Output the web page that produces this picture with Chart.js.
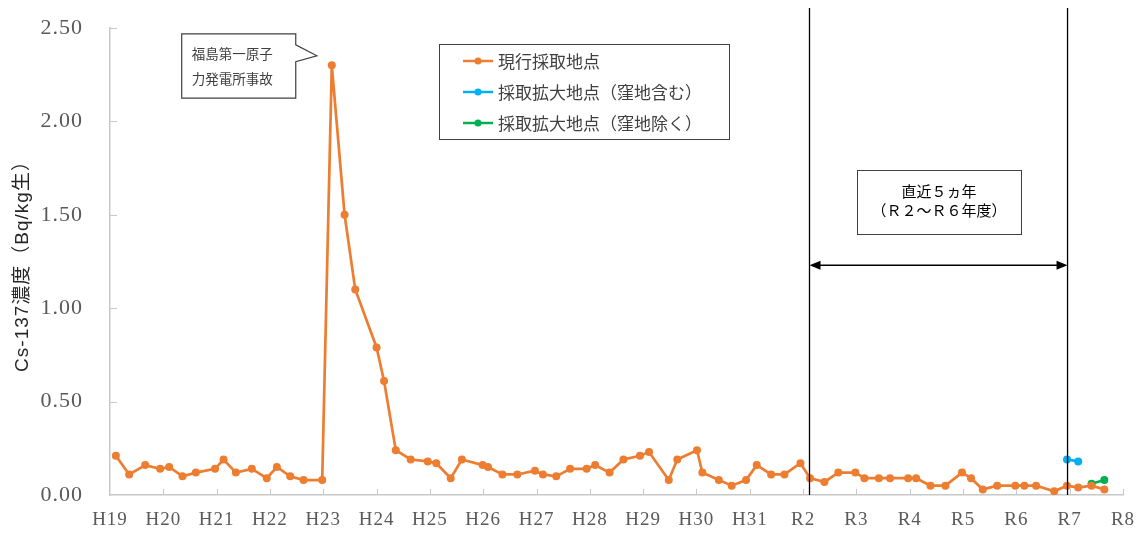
<!DOCTYPE html>
<html lang="ja">
<head>
  <meta charset="UTF-8">
  <title>Cs-137濃度の推移</title>
  <script src="https://cdn.jsdelivr.net/npm/chart.js"></script>
  <style>
    body {
      margin: 0;
      background: #ffffff;
    }
    #wrap {
      width: 1145px;
      height: 538px;
    }
  </style>
</head>
<body>
  <div id="wrap">
    <canvas id="csChart" width="1145" height="538"></canvas>
  </div>

  <script>
    // fiscal-year tick labels (x axis runs 0..19, one unit per year)
    const yearLabels = ['H19', 'H20', 'H21', 'H22', 'H23', 'H24', 'H25', 'H26', 'H27', 'H28',
      'H29', 'H30', 'H31', 'R2', 'R3', 'R4', 'R5', 'R6', 'R7', 'R8'];

    const seriesNames = ['現行採取地点', '採取拡大地点（窪地含む）', '採取拡大地点（窪地除く）'];

    // 現行採取地点: sampling time (years since H19) and concentration
    const currentX = [0.11, 0.36, 0.66, 0.94, 1.11, 1.36, 1.61, 1.97, 2.13, 2.36,
      2.66, 2.94, 3.13, 3.38, 3.63, 3.98, 4.16, 4.40, 4.60, 5.00,
      5.14, 5.36, 5.64, 5.96, 6.12, 6.39, 6.60, 6.99, 7.09, 7.36,
      7.64, 7.97, 8.12, 8.37, 8.63, 8.94, 9.10, 9.37, 9.63, 9.94,
      10.11, 10.48, 10.64, 11.01, 11.11, 11.42, 11.66, 11.93, 12.13, 12.40,
      12.65, 12.95, 13.13, 13.40, 13.66, 13.98, 14.15, 14.42, 14.63, 14.97,
      15.12, 15.39, 15.67, 15.98, 16.15, 16.37, 16.64, 16.98, 17.15, 17.37,
      17.71, 17.95, 18.16, 18.41, 18.65];
    const currentY = [0.21, 0.11, 0.16, 0.14, 0.15, 0.10, 0.12, 0.14, 0.19, 0.12,
      0.14, 0.09, 0.15, 0.10, 0.08, 0.08, 2.30, 1.50, 1.10, 0.79,
      0.61, 0.24, 0.19, 0.18, 0.17, 0.09, 0.19, 0.16, 0.15, 0.11,
      0.11, 0.13, 0.11, 0.10, 0.14, 0.14, 0.16, 0.12, 0.19, 0.21,
      0.23, 0.08, 0.19, 0.24, 0.12, 0.08, 0.05, 0.08, 0.16, 0.11,
      0.11, 0.17, 0.09, 0.07, 0.12, 0.12, 0.09, 0.09, 0.09, 0.09,
      0.09, 0.05, 0.05, 0.12, 0.09, 0.03, 0.05, 0.05, 0.05, 0.05,
      0.02, 0.05, 0.04, 0.05, 0.03];

    // 採取拡大地点
    const withHollowX = [17.95, 18.16];
    const withHollowY = [0.19, 0.18];
    const withoutHollowX = [18.41, 18.65];
    const withoutHollowY = [0.06, 0.08];

    const seriesColors = ['#ED7D31', '#00B0F0', '#00B050'];

    // annotation anchors in data units
    const periodStart = 13.12;
    const periodEnd = 17.96;
    const periodArrowY = 1.23;
    const periodText = ['直近５ヵ年', '（Ｒ２～Ｒ６年度）'];
    const accidentText = ['福島第一原子', '力発電所事故'];

    function toPoints(xs, ys) {
      return xs.map((x, i) => ({ x: x, y: ys[i] }));
    }

    const axisGray = '#c8c8c8';
    const labelGray = '#595959';
    const cjk = '"Noto Sans CJK JP", sans-serif';

    // wider spacing for axis text only (scales are drawn before datasets)
    const axisSpacing = {
      id: 'axisSpacing',
      beforeDraw(chart) { chart.ctx.letterSpacing = '1px'; },
      beforeDatasetsDraw(chart) { chart.ctx.letterSpacing = '0px'; }
    };

    // inside tick marks like the original spreadsheet chart
    const insideTicks = {
      id: 'insideTicks',
      afterDraw(chart) {
        const { ctx, chartArea, scales } = chart;
        ctx.save();
        ctx.strokeStyle = axisGray;
        ctx.lineWidth = 1;
        ctx.beginPath();
        scales.y.ticks.forEach(t => {
          if (t.value === 0) return;
          const y = Math.round(scales.y.getPixelForValue(t.value)) + 0.5;
          ctx.moveTo(chartArea.left, y);
          ctx.lineTo(chartArea.left + 7, y);
        });
        scales.x.ticks.forEach(t => {
          if (t.value === 0) return;
          const x = Math.round(scales.x.getPixelForValue(t.value)) + 0.5;
          ctx.moveTo(x, chartArea.bottom);
          ctx.lineTo(x, chartArea.bottom - 6);
        });
        ctx.stroke();
        ctx.restore();
      }
    };

    function arrowHead(ctx, x, y, dir) {
      ctx.beginPath();
      ctx.moveTo(x, y);
      ctx.lineTo(x - dir * 11, y - 4.5);
      ctx.lineTo(x - dir * 11, y + 4.5);
      ctx.closePath();
      ctx.fill();
    }

    const annotations = {
      id: 'annotations',
      afterDatasetsDraw(chart) {
        const { ctx, chartArea, scales } = chart;
        const xs = scales.x, ys = scales.y;
        ctx.save();
        ctx.letterSpacing = '0px';

        // period lines and arrow
        const x1 = xs.getPixelForValue(periodStart);
        const x2 = xs.getPixelForValue(periodEnd);
        ctx.strokeStyle = '#000';
        ctx.fillStyle = '#000';
        ctx.lineWidth = 1.3;
        ctx.beginPath();
        ctx.moveTo(x1, chartArea.top - 20);
        ctx.lineTo(x1, chartArea.bottom);
        ctx.moveTo(x2, chartArea.top - 20);
        ctx.lineTo(x2, chartArea.bottom);
        const ay = ys.getPixelForValue(periodArrowY);
        ctx.moveTo(x1 + 6, ay);
        ctx.lineTo(x2 - 6, ay);
        ctx.stroke();
        arrowHead(ctx, x1, ay, -1);
        arrowHead(ctx, x2, ay, 1);

        // period label box
        const bx1 = xs.getPixelForValue(14.01), bx2 = xs.getPixelForValue(17.09);
        const by1 = ys.getPixelForValue(1.74), by2 = ys.getPixelForValue(1.40);
        ctx.fillStyle = '#fff';
        ctx.fillRect(bx1, by1, bx2 - bx1, by2 - by1);
        ctx.strokeStyle = '#404040';
        ctx.lineWidth = 1;
        ctx.strokeRect(Math.round(bx1) + 0.5, Math.round(by1) + 0.5, Math.round(bx2 - bx1), Math.round(by2 - by1));
        ctx.fillStyle = '#000';
        ctx.font = '15px ' + cjk;
        ctx.textAlign = 'center';
        ctx.textBaseline = 'middle';
        const bc = (bx1 + bx2) / 2;
        ctx.fillText(periodText[0], bc, by1 + 21);
        ctx.fillText(periodText[1], bc, by1 + 40);

        // accident callout
        const cx1 = xs.getPixelForValue(1.345), cx2 = xs.getPixelForValue(3.484);
        const cy1 = ys.getPixelForValue(2.469), cy2 = ys.getPixelForValue(2.125);
        const tipX = xs.getPixelForValue(3.88), tipY = ys.getPixelForValue(2.351);
        const pA = ys.getPixelForValue(2.41), pB = ys.getPixelForValue(2.32);
        ctx.beginPath();
        ctx.moveTo(cx1, cy1);
        ctx.lineTo(cx2, cy1);
        ctx.lineTo(cx2, pA);
        ctx.lineTo(tipX, tipY);
        ctx.lineTo(cx2, pB);
        ctx.lineTo(cx2, cy2);
        ctx.lineTo(cx1, cy2);
        ctx.closePath();
        ctx.fillStyle = '#fff';
        ctx.fill();
        ctx.strokeStyle = '#404040';
        ctx.lineWidth = 1.2;
        ctx.stroke();
        ctx.fillStyle = '#404040';
        ctx.font = '13.5px ' + cjk;
        ctx.textAlign = 'left';
        ctx.fillText(accidentText[0], cx1 + 10, cy1 + 20);
        ctx.fillText(accidentText[1], cx1 + 10, cy1 + 45);

        // legend box
        const lx = chartArea.left + 329, ly = chartArea.top + 16;
        ctx.fillStyle = '#fff';
        ctx.fillRect(lx, ly, 290, 95);
        ctx.strokeStyle = '#404040';
        ctx.lineWidth = 1;
        ctx.strokeRect(lx + 0.5, ly + 0.5, 290, 95);
        ctx.font = '17px ' + cjk;
        chart.data.datasets.forEach((ds, i) => {
          const ry = ly + 17 + i * 31;
          ctx.strokeStyle = ds.borderColor;
          ctx.lineWidth = 2.5;
          ctx.beginPath();
          ctx.moveTo(lx + 24, ry);
          ctx.lineTo(lx + 54, ry);
          ctx.stroke();
          ctx.fillStyle = ds.borderColor;
          ctx.beginPath();
          ctx.arc(lx + 39, ry, 3.5, 0, Math.PI * 2);
          ctx.fill();
          ctx.fillStyle = '#404040';
          ctx.fillText(ds.label, lx + 59, ry + 1);
        });

        ctx.restore();
      }
    };

    function lineSet(label, xs, ys, color) {
      return {
        label: label,
        data: toPoints(xs, ys),
        borderColor: color,
        backgroundColor: color,
        borderWidth: 2.7,
        pointRadius: 4,
        pointHoverRadius: 4,
        pointBorderWidth: 0,
        tension: 0
      };
    }

    const ctx = document.getElementById('csChart').getContext('2d');
    new Chart(ctx, {
      type: 'line',
      data: {
        datasets: [
          lineSet(seriesNames[0], currentX, currentY, seriesColors[0]),
          lineSet(seriesNames[1], withHollowX, withHollowY, seriesColors[1]),
          lineSet(seriesNames[2], withoutHollowX, withoutHollowY, seriesColors[2])
        ]
      },
      options: {
        responsive: false,
        animation: false,
        layout: { padding: { left: 0, right: 22, top: 28, bottom: 0 } },
        plugins: {
          legend: { display: false },
          tooltip: { enabled: false }
        },
        scales: {
          x: {
            type: 'linear',
            min: 0,
            max: 19,
            grid: { display: false },
            border: { color: axisGray, width: 1.5 },
            ticks: {
              stepSize: 1,
              autoSkip: false,
              maxRotation: 0,
              padding: 6,
              color: labelGray,
              font: { family: '"Liberation Serif", serif', size: 19 },
              callback: v => yearLabels[v]
            },
            afterFit: s => {
              s.height = 43;
              s.paddingLeft = 0;
              s.paddingRight = 0;
            }
          },
          y: {
            min: 0,
            max: 2.5,
            grid: { display: false },
            border: { color: axisGray, width: 1.5 },
            ticks: {
              stepSize: 0.5,
              padding: 19,
              color: labelGray,
              font: { family: '"Liberation Serif", serif', size: 22 },
              callback: v => v.toFixed(2)
            },
            title: {
              display: true,
              text: 'Cs-137濃度（Bq/kg生）',
              color: '#262626',
              font: { family: '"Liberation Sans", ' + cjk, size: 19 },
              padding: { top: 11, bottom: 0 }
            },
            afterFit: s => {
              s.width = 110;
              s.paddingTop = 0;
              s.paddingBottom = 0;
            }
          }
        }
      },
      plugins: [axisSpacing, insideTicks, annotations]
    });
  </script>
</body>
</html>
